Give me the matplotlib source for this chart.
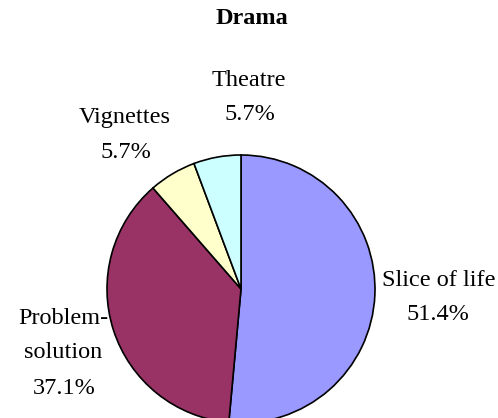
import matplotlib
matplotlib.use("Agg")
import matplotlib.pyplot as plt

# data
categories = ["Slice of life", "Problem-\nsolution", "Vignettes", "Theatre"]
shares = [51.4, 37.1, 5.7, 5.7]
colors = ["#9999FF", "#993366", "#FFFFCC", "#CCFFFF"]

W, H = 498, 418
plt.rcParams['font.family'] = ['Liberation Serif', 'DejaVu Serif']

fig = plt.figure(figsize=(W / 100, H / 100), dpi=100)
ax = fig.add_axes([0, 0, 1, 1])
ax.axis('off')

# pie in pixel coordinates (y up)
ax.pie(shares, colors=colors, startangle=90, counterclock=False,
       center=(241, H - 289), radius=134,
       wedgeprops=dict(edgecolor='black', linewidth=1.2))
ax.set_xlim(0, W)
ax.set_ylim(0, H)
ax.set_aspect('equal')

fs = 17.5
ax.text(252, H - 18, "Drama", ha='center', va='center', fontsize=fs, fontweight='bold')

# label positions (pixel coords of each line's centre)
label_pos = {
    "Slice of life": (439, [280]),
    "Problem-\nsolution": (63, [318, 353]),
    "Vignettes": (125, [117]),
    "Theatre": (249, [80]),
}
for cat, val in zip(categories, shares):
    x, ys = label_pos[cat]
    for line, y in zip(cat.split("\n"), ys):
        ax.text(x, H - y, line, ha='center', va='center', fontsize=fs)
    ax.text(x - 1 if cat == "Slice of life" else x + 1, H - (ys[-1] + 35),
            f"{val:.1f}%", ha='center', va='center', fontsize=fs)

fig.savefig("out.png", dpi=100)
